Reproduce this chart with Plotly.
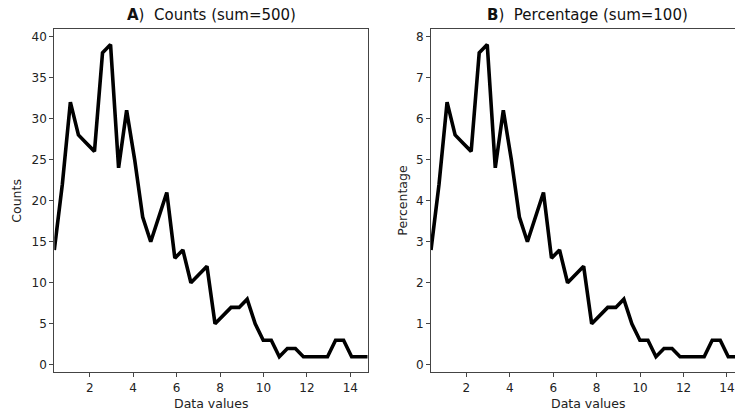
import plotly.graph_objects as go

# Data
x_values = [0.37, 0.74, 1.11, 1.48, 1.85, 2.22, 2.59, 2.96, 3.33, 3.70,
            4.07, 4.44, 4.81, 5.18, 5.55, 5.92, 6.29, 6.66, 7.03, 7.40,
            7.77, 8.14, 8.51, 8.88, 9.25, 9.62, 9.99, 10.36, 10.73, 11.10,
            11.47, 11.84, 12.21, 12.58, 12.95, 13.32, 13.69, 14.06, 14.43, 14.80]
counts = [14, 22, 32, 28, 27, 26, 38, 39, 24, 31,
          25, 18, 15, 18, 21, 13, 14, 10, 11, 12,
          5, 6, 7, 7, 8, 5, 3, 3, 1, 2,
          2, 1, 1, 1, 1, 3, 3, 1, 1, 1]
percentages = [2.8, 4.4, 6.4, 5.6, 5.4, 5.2, 7.6, 7.8, 4.8, 6.2,
               5.0, 3.6, 3.0, 3.6, 4.2, 2.6, 2.8, 2.0, 2.2, 2.4,
               1.0, 1.2, 1.4, 1.4, 1.6, 1.0, 0.6, 0.6, 0.2, 0.4,
               0.4, 0.2, 0.2, 0.2, 0.2, 0.6, 0.6, 0.2, 0.2, 0.2]
x_ticks = [2, 4, 6, 8, 10, 12, 14]
y_ticks_a = [0, 5, 10, 15, 20, 25, 30, 35, 40]
y_ticks_b = [0, 1, 2, 3, 4, 5, 6, 7, 8]

W, H = 735, 410
FONT = "DejaVu Sans"

fig = go.Figure()
fig.add_trace(go.Scatter(x=x_values, y=counts, mode="lines",
                         line=dict(color="black", width=3.6),
                         xaxis="x", yaxis="y", showlegend=False))
fig.add_trace(go.Scatter(x=x_values, y=percentages, mode="lines",
                         line=dict(color="black", width=3.6),
                         xaxis="x2", yaxis="y2", showlegend=False))

ydom = [1 - 372.3 / H, 1 - 29 / H]
axis_common = dict(showgrid=False, zeroline=False, showline=True,
                   linecolor="#444", linewidth=1, ticks="outside",
                   ticklen=4, tickwidth=1, tickcolor="#444",
                   tickfont=dict(family=FONT, size=12, color="#222"),
                   automargin=False)

fig.update_layout(
    width=W, height=H,
    margin=dict(l=0, r=0, t=0, b=0),
    paper_bgcolor="white", plot_bgcolor="white",
    xaxis=dict(domain=[54.3 / W, 367.7 / W], range=[0.37, 14.80],
               tickvals=x_ticks, mirror=True, anchor="y", **axis_common),
    yaxis=dict(domain=ydom, range=[-0.9, 40.9], tickvals=y_ticks_a,
               mirror=True, anchor="x", **axis_common),
    xaxis2=dict(domain=[431 / W, 1.0], range=[0.37, 14.37],
                tickvals=x_ticks, mirror=True, anchor="y2", **axis_common),
    yaxis2=dict(domain=ydom, range=[-0.18, 8.18], tickvals=y_ticks_b,
                mirror=False, anchor="x2", **axis_common),
)

ann_font = dict(family=FONT, size=12.5, color="#222")
title_font = dict(family=FONT, size=15, color="#111")
annotations = [
    dict(text="<b>A</b>)  Counts (sum=500)", x=211 / W, y=1 - 15 / H,
         font=title_font),
    dict(text="<b>B</b>)  Percentage (sum=100)", x=587.5 / W, y=1 - 15 / H,
         font=title_font),
    dict(text="Data values", x=211 / W, y=1 - 403 / H, font=ann_font),
    dict(text="Data values", x=587.5 / W, y=1 - 403 / H, font=ann_font),
    dict(text="Counts", x=17 / W, y=1 - 200.7 / H, textangle=-90, font=ann_font),
    dict(text="Percentage", x=403 / W, y=1 - 200.7 / H, textangle=-90, font=ann_font),
]
for a in annotations:
    a.update(xref="paper", yref="paper", xanchor="center", yanchor="middle",
             showarrow=False)
fig.update_layout(annotations=annotations)

fig.write_html("out.html")
